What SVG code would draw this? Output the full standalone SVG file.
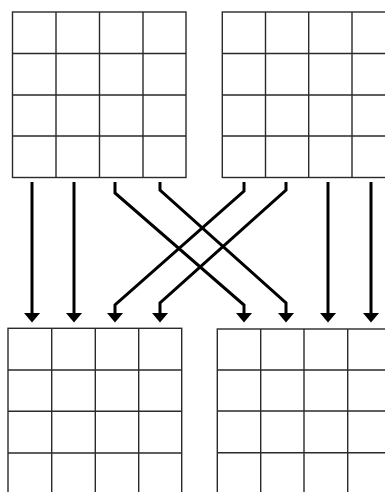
<svg xmlns="http://www.w3.org/2000/svg" width="385" height="492" viewBox="0 0 385 492">
<defs>
<style>
.grid{fill:none;stroke:#2a2a2a;stroke-width:1.4}
.wire{fill:none;stroke:#000;stroke-width:3;stroke-linejoin:miter}
</style>
<marker id="ah" viewBox="0 0 10 17" refX="0.5" refY="8.5" markerUnits="userSpaceOnUse" markerWidth="10" markerHeight="17" orient="auto">
<path d="M0,0 L10,8.5 L0,17 Z" fill="#000"/>
</marker>
</defs>
<rect width="385" height="492" fill="#fff"/>
<g id="grid-top-left" class="grid">
<rect x="12.5" y="12" width="173.5" height="165.5"/>
<path d="M56,12V177.5M99.5,12V177.5M143,12V177.5M12.5,53.5H186M12.5,95H186M12.5,136H186"/>
</g>
<g id="grid-top-right" class="grid">
<rect x="222.3" y="12" width="173" height="165.5"/>
<path d="M265.5,12V177.5M308.7,12V177.5M352,12V177.5M222.3,53.5H395M222.3,95H395M222.3,136H395"/>
</g>
<g id="grid-bottom-left" class="grid">
<rect x="8" y="328.3" width="173.7" height="166"/>
<path d="M51.7,328.3V495M95.3,328.3V495M138.7,328.3V495M8,370H181.7M8,411.3H181.7M8,453H181.7"/>
</g>
<g id="grid-bottom-right" class="grid">
<rect x="217.3" y="329" width="174" height="166"/>
<path d="M260.7,329V495M304,329V495M347.7,329V495M217.3,370H392M217.3,411H392M217.3,452.7H392"/>
</g>
<g id="connectors" class="wire">
<path d="M32,182V313" marker-end="url(#ah)"/>
<path d="M74,182V313" marker-end="url(#ah)"/>
<path d="M328,182V313" marker-end="url(#ah)"/>
<path d="M371,182V313" marker-end="url(#ah)"/>
<path d="M115,182V193L244,305V313" marker-end="url(#ah)"/>
<path d="M160,182V190L286,303V313" marker-end="url(#ah)"/>
<path d="M244,182V191L115,305V313" marker-end="url(#ah)"/>
<path d="M286,182V190L160,303V313" marker-end="url(#ah)"/>
</g>
</svg>
